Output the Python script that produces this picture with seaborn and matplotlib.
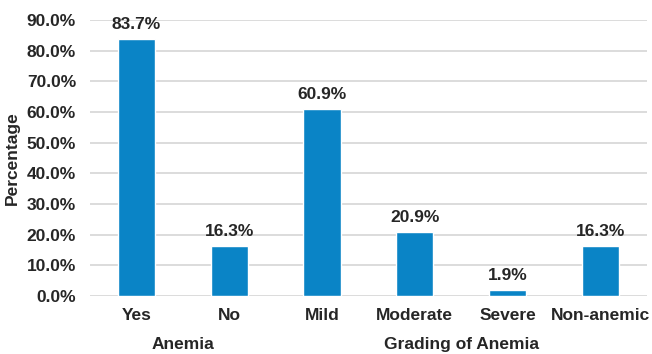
import matplotlib
matplotlib.use("Agg")
import matplotlib.pyplot as plt
import matplotlib.transforms as mtransforms
import seaborn as sns
import pandas as pd

categories = ["Yes", "No", "Mild", "Moderate", "Severe", "Non-anemic"]
percentages = [83.7, 16.3, 60.9, 20.9, 1.9, 16.3]
groups = ["Anemia", "Anemia", "Grading of Anemia", "Grading of Anemia",
          "Grading of Anemia", "Grading of Anemia"]
group_names = ["Anemia", "Grading of Anemia"]
y_ticks = [0, 10, 20, 30, 40, 50, 60, 70, 80, 90]

df = pd.DataFrame({"category": categories, "pct": percentages, "group": groups})

sns.set_theme(style="white")
plt.rcParams["font.family"] = ["Liberation Sans", "DejaVu Sans"]
plt.rcParams["font.weight"] = "bold"

FS = 12.5
TXT = "#262626"

fig, ax = plt.subplots(figsize=(6.52, 3.54), dpi=100)
fig.subplots_adjust(left=0.138, right=0.992, top=0.944, bottom=0.164)

sns.barplot(data=df, x="category", y="pct", color="#0A84C6", saturation=1,
            width=0.4, ax=ax, zorder=3)

ax.set_ylim(0, 90)
ax.set_yticks(y_ticks)
ax.set_yticklabels([f"{v:.1f}%" for v in y_ticks], fontsize=FS, fontweight="bold",
                   color=TXT)
ax.yaxis.grid(True, color="#D9D9D9", linewidth=1.3, zorder=0)
ax.set_axisbelow(True)
for s in ax.spines.values():
    s.set_visible(False)
ax.tick_params(axis="y", length=0, pad=10)
ax.set_xticks(range(len(categories)))
ax.set_xticklabels(categories, fontsize=FS, fontweight="bold", color=TXT)
ax.tick_params(axis="x", length=0, pad=8.5)
ax.set_xlim(-0.5, len(categories) - 0.5)

ax.set_xlabel("")
ax.set_ylabel("Percentage", fontsize=FS, fontweight="bold", color=TXT, labelpad=5)

for i, v in enumerate(percentages):
    ax.annotate(f"{v:.1f}%", (i, v), xytext=(0, 5), textcoords="offset points",
                ha="center", va="bottom", fontsize=FS, fontweight="bold",
                color=TXT, annotation_clip=False)

# group captions centred beneath their categories
trans = mtransforms.blended_transform_factory(ax.transData, ax.transAxes)
for name in group_names:
    idx = [i for i, g in enumerate(groups) if g == name]
    center = (min(idx) + max(idx)) / 2
    ax.text(center, -0.148, name, transform=trans, ha="center", va="top",
            fontsize=FS, fontweight="bold", color=TXT)

fig.savefig("out.png", dpi=100)
